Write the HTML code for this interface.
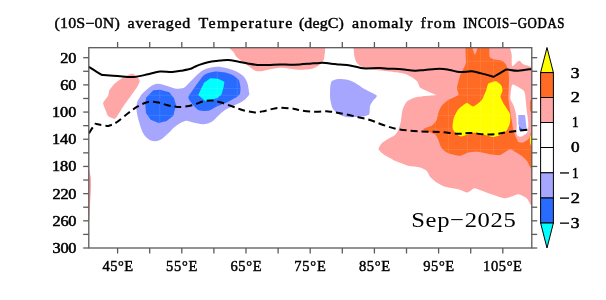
<!DOCTYPE html>
<html><head><meta charset="utf-8"><style>html,body{margin:0;padding:0;background:#fff;width:606px;height:300px;overflow:hidden}svg{display:block;will-change:transform}</style></head>
<body><svg width="606" height="300" viewBox="0 0 606 300">
<defs><clipPath id="fr"><rect x="88.7" y="47.5" width="443" height="200.5"/></clipPath></defs>
<g clip-path="url(#fr)"><path fill="#ffa6a6" d="M234.00,41.00 C218.90,43.08 233.67,50.50 234.50,53.50 C235.33,56.50 236.92,57.08 239.00,59.00 C241.08,60.92 244.33,63.08 247.00,65.00 C249.67,66.92 252.67,69.47 255.00,70.50 C257.33,71.53 258.67,71.37 261.00,71.20 C263.33,71.03 266.17,70.03 269.00,69.50 C271.83,68.97 275.33,68.25 278.00,68.00 C280.67,67.75 282.17,67.77 285.00,68.00 C287.83,68.23 291.92,69.12 295.00,69.40 C298.08,69.68 300.92,69.75 303.50,69.70 C306.08,69.65 308.17,69.68 310.50,69.10 C312.83,68.52 315.45,67.47 317.50,66.20 C319.55,64.93 321.63,63.25 322.80,61.50 C323.97,59.75 324.12,57.83 324.50,55.70 C324.88,53.57 325.00,51.15 325.10,48.70 C325.20,46.25 340.28,42.28 325.10,41.00 C309.92,39.72 249.10,38.92 234.00,41.00Z"/>
<path fill="#ffa6a6" d="M353.70,41.00 C335.27,41.77 353.64,47.23 353.70,48.70 C353.76,50.17 354.07,54.42 354.30,55.70 C354.53,56.98 355.48,60.51 356.00,61.50 C356.52,62.49 358.57,64.92 359.50,65.60 C360.43,66.28 364.08,67.92 365.30,68.30 C366.52,68.68 370.23,69.19 371.70,69.40 C373.17,69.61 378.17,70.20 380.00,70.40 C381.83,70.60 388.00,71.16 390.00,71.40 C392.00,71.64 398.40,72.51 400.00,72.80 C401.60,73.09 404.81,73.85 406.00,74.30 C407.19,74.75 410.75,76.56 411.90,77.30 C413.05,78.04 416.69,80.68 417.50,81.70 C418.31,82.72 418.92,86.50 420.00,87.50 C421.08,88.50 426.70,90.95 428.30,91.70 C429.90,92.45 436.33,94.57 436.00,95.00 C435.67,95.43 427.10,95.75 425.00,96.00 C422.90,96.25 416.83,96.93 415.00,97.50 C413.17,98.07 407.95,100.45 406.70,101.70 C405.45,102.95 403.09,108.00 402.50,110.00 C401.91,112.00 401.22,119.70 400.80,121.70 C400.38,123.70 398.88,128.67 398.30,130.00 C397.72,131.33 396.03,134.10 395.00,135.00 C393.97,135.90 389.30,138.20 388.00,139.00 C386.70,139.80 382.95,142.00 382.00,143.00 C381.05,144.00 378.40,147.90 378.50,149.00 C378.60,150.10 381.85,153.10 383.00,154.00 C384.15,154.90 388.80,157.32 390.00,158.00 C391.20,158.68 393.17,160.02 395.00,160.80 C396.83,161.58 405.80,165.13 408.30,165.80 C410.80,166.47 418.16,167.00 420.00,167.50 C421.84,168.00 425.70,169.88 426.70,170.80 C427.70,171.72 429.00,175.53 430.00,176.70 C431.00,177.87 435.20,181.50 436.70,182.50 C438.20,183.50 442.84,186.03 445.00,186.70 C447.16,187.37 456.05,188.62 458.30,189.20 C460.55,189.78 465.91,192.59 467.50,192.50 C469.09,192.41 472.78,188.47 474.20,188.30 C475.62,188.13 479.79,190.13 481.70,190.80 C483.61,191.47 490.89,194.25 493.30,195.00 C495.71,195.75 503.30,198.38 505.80,198.30 C508.30,198.22 516.21,194.20 518.30,194.20 C520.39,194.20 525.45,197.22 526.70,198.30 C527.95,199.38 529.67,203.83 530.80,205.00 C531.93,206.17 537.28,226.40 538.00,210.00 C538.72,193.60 556.43,57.90 538.00,41.00 C519.57,24.10 372.13,40.23 353.70,41.00Z"/>
<path fill="#ffa6a6" d="M132.90,73.70 C133.49,73.83 136.91,75.88 137.40,76.40 C137.89,76.92 139.80,80.28 139.80,81.00 C139.80,81.72 138.03,85.45 137.40,86.50 C136.77,87.55 131.98,94.32 131.00,95.70 C130.02,97.08 124.81,104.16 123.70,105.80 C122.59,107.44 116.51,117.88 115.40,118.60 C114.29,119.32 108.82,116.56 108.10,115.90 C107.38,115.24 105.66,110.32 105.30,109.40 C104.94,108.48 102.90,103.98 103.10,103.00 C103.30,102.02 107.65,96.61 108.10,95.70 C108.55,94.79 108.94,91.05 109.40,90.20 C109.86,89.35 113.61,84.65 114.50,83.80 C115.39,82.95 120.85,78.96 121.90,78.30 C122.95,77.64 128.41,74.93 129.20,74.60 C129.99,74.27 132.31,73.57 132.90,73.70Z"/>
<path fill="#ffa6a6" d="M82.00,168.00 L89.30,170.00 L90.90,178.00 L91.10,186.00 L90.60,195.00 L89.90,208.00 L89.40,220.00 L82.00,222.00Z"/>
<path fill="#ff6b24" d="M465.70,41.00 C466.28,39.50 470.84,40.34 471.50,41.00 C472.16,41.66 471.95,46.23 472.30,47.60 C472.65,48.97 474.47,54.70 475.00,54.70 C475.53,54.70 477.25,48.97 477.60,47.60 C477.95,46.23 477.36,41.66 478.50,41.00 C479.64,40.34 487.92,39.80 489.00,41.00 C490.08,42.20 489.22,51.37 489.30,53.00 C489.38,54.63 489.36,56.67 489.80,57.30 C490.24,57.93 492.51,58.96 493.70,59.30 C494.89,59.64 500.50,60.23 501.70,60.70 C502.90,61.17 505.04,63.00 505.70,64.00 C506.36,65.00 507.97,69.27 508.30,70.70 C508.63,72.13 508.95,76.54 509.00,78.30 C509.05,80.06 508.86,86.33 508.80,88.30 C508.74,90.27 508.28,95.83 508.40,98.00 C508.52,100.17 509.67,107.80 510.00,110.00 C510.33,112.20 511.37,118.00 511.70,120.00 C512.03,122.00 512.97,128.50 513.30,130.00 C513.63,131.50 514.50,133.83 515.00,135.00 C515.50,136.17 517.47,140.95 518.30,141.70 C519.13,142.45 522.21,142.84 523.30,142.50 C524.39,142.16 528.45,139.22 529.20,138.30 C529.95,137.38 529.92,133.83 530.80,133.30 C531.68,132.77 537.28,129.03 538.00,133.00 C538.72,136.97 538.72,169.47 538.00,173.00 C537.28,176.53 531.85,169.43 530.80,168.30 C529.75,167.17 528.41,162.95 527.50,161.70 C526.59,160.45 522.95,156.80 521.70,155.80 C520.45,154.80 516.17,152.36 515.00,151.70 C513.83,151.04 511.50,148.87 510.00,149.20 C508.50,149.53 502.00,154.50 500.00,155.00 C498.00,155.50 492.17,154.53 490.00,154.20 C487.83,153.87 480.47,151.87 478.30,151.70 C476.13,151.53 470.13,152.09 468.30,152.50 C466.47,152.91 462.00,155.72 460.00,155.80 C458.00,155.88 450.13,154.05 448.30,153.30 C446.47,152.55 442.70,149.63 441.70,148.30 C440.70,146.97 438.97,141.41 438.30,140.00 C437.63,138.59 436.50,135.25 435.00,134.20 C433.50,133.15 423.63,130.34 423.30,129.50 C422.97,128.66 430.36,126.75 431.70,125.80 C433.04,124.85 436.04,121.25 436.70,120.00 C437.36,118.75 437.80,114.72 438.30,113.30 C438.80,111.88 440.70,107.13 441.70,105.80 C442.70,104.47 446.64,101.08 448.30,100.00 C449.96,98.92 457.44,96.17 458.30,95.00 C459.16,93.83 456.90,89.60 456.90,88.30 C456.90,87.00 457.96,83.36 458.30,82.00 C458.64,80.64 459.56,76.50 460.30,74.70 C461.04,72.90 465.16,65.87 465.70,64.00 C466.24,62.13 465.70,58.30 465.70,56.00 C465.70,53.70 465.12,42.50 465.70,41.00Z"/>
<path fill="#ff6b24" d="M530.80,100.00 C529.47,101.00 530.00,103.05 530.00,105.00 C530.00,106.95 529.47,110.53 530.80,111.70 C532.13,112.87 536.80,114.12 538.00,112.00 C539.20,109.88 539.20,101.00 538.00,99.00 C536.80,97.00 532.13,99.00 530.80,100.00Z"/>
<path fill="#fff" d="M511.30,41.00 C506.92,43.33 511.58,50.87 511.70,55.00 C511.82,59.13 511.45,64.27 512.00,65.80 C512.55,67.33 513.80,65.03 515.00,64.20 C516.20,63.37 517.53,60.67 519.20,60.80 C520.87,60.93 521.87,64.30 525.00,65.00 C528.13,65.70 535.83,69.00 538.00,65.00 C540.17,61.00 542.45,45.00 538.00,41.00 C533.55,37.00 515.68,38.67 511.30,41.00Z"/>
<path fill="#fff" d="M510.40,97.00 C510.43,95.33 510.68,92.03 511.00,90.00 C511.32,87.97 511.63,85.60 512.30,84.80 C512.97,84.00 514.00,84.85 515.00,85.20 C516.00,85.55 516.97,86.10 518.30,86.90 C519.63,87.70 521.88,88.90 523.00,90.00 C524.12,91.10 524.55,91.83 525.00,93.50 C525.45,95.17 525.42,97.25 525.70,100.00 C525.98,102.75 526.27,106.12 526.70,110.00 C527.13,113.88 528.17,119.68 528.30,123.30 C528.43,126.92 528.18,129.75 527.50,131.70 C526.82,133.65 525.45,134.17 524.20,135.00 C522.95,135.83 521.25,136.83 520.00,136.70 C518.75,136.57 517.25,136.43 516.70,134.20 C516.15,131.97 516.85,126.78 516.70,123.30 C516.55,119.82 516.37,116.35 515.80,113.30 C515.23,110.25 514.13,107.22 513.30,105.00 C512.47,102.78 511.28,101.33 510.80,100.00 C510.32,98.67 510.37,98.67 510.40,97.00Z"/>
<path fill="#ffff00" d="M488.30,83.70 C489.27,82.81 494.60,81.11 495.90,81.30 C497.20,81.49 500.65,84.60 501.30,85.60 C501.95,86.60 502.48,90.19 502.40,91.30 C502.32,92.41 500.28,95.30 500.50,96.70 C500.72,98.10 503.65,103.57 504.60,105.30 C505.55,107.03 509.46,112.26 510.00,114.00 C510.54,115.74 510.32,121.07 510.00,122.70 C509.68,124.33 507.75,129.07 506.80,130.30 C505.85,131.53 501.88,134.33 500.50,135.00 C499.12,135.67 494.45,136.98 493.00,137.00 C491.55,137.02 487.77,135.62 486.00,135.20 C484.23,134.78 477.20,132.84 475.30,132.80 C473.40,132.76 468.43,134.43 467.00,134.80 C465.57,135.17 462.15,136.66 461.00,136.50 C459.85,136.34 456.34,134.04 455.50,133.20 C454.66,132.36 452.78,129.59 452.60,128.10 C452.42,126.61 453.16,120.14 453.70,118.30 C454.24,116.46 456.70,111.23 458.00,109.70 C459.30,108.17 465.18,103.33 466.70,103.00 C468.22,102.67 471.69,106.71 473.20,106.40 C474.71,106.09 480.50,101.52 481.80,99.90 C483.10,98.28 485.55,91.82 486.20,90.20 C486.85,88.58 487.33,84.59 488.30,83.70Z"/>
<path fill="#ffff00" d="M530.80,135.00 C532.00,133.17 536.80,132.00 538.00,134.00 C539.20,136.00 539.20,145.17 538.00,147.00 C536.80,148.83 532.00,147.00 530.80,145.00 C529.60,143.00 529.60,136.83 530.80,135.00Z"/>
<path fill="#a6a6ff" d="M143.00,93.00 C144.95,91.13 149.15,87.35 151.70,85.80 C154.25,84.25 155.80,83.70 158.30,83.70 C160.80,83.70 163.92,85.00 166.70,85.80 C169.48,86.60 172.78,88.05 175.00,88.50 C177.22,88.95 178.37,88.72 180.00,88.50 C181.63,88.28 182.80,88.62 184.80,87.20 C186.80,85.78 189.20,82.70 192.00,80.00 C194.80,77.30 198.40,73.10 201.60,71.00 C204.80,68.90 207.80,68.03 211.20,67.40 C214.60,66.77 218.20,66.70 222.00,67.20 C225.80,67.70 230.60,69.07 234.00,70.40 C237.40,71.73 240.20,73.20 242.40,75.20 C244.60,77.20 246.10,79.60 247.20,82.40 C248.30,85.20 248.70,89.90 249.00,92.00 C249.30,94.10 249.95,93.53 249.00,95.00 C248.05,96.47 245.63,99.13 243.30,100.80 C240.97,102.47 238.05,103.47 235.00,105.00 C231.95,106.53 227.78,108.20 225.00,110.00 C222.22,111.80 220.52,113.85 218.30,115.80 C216.08,117.75 214.20,120.30 211.70,121.70 C209.20,123.10 206.37,124.07 203.30,124.20 C200.23,124.33 196.35,123.03 193.30,122.50 C190.25,121.97 188.05,120.30 185.00,121.00 C181.95,121.70 177.78,124.65 175.00,126.70 C172.22,128.75 170.80,131.08 168.30,133.30 C165.80,135.52 162.77,138.75 160.00,140.00 C157.23,141.25 154.33,141.63 151.70,140.80 C149.07,139.97 146.15,137.63 144.20,135.00 C142.25,132.37 141.25,128.88 140.00,125.00 C138.75,121.12 137.20,115.37 136.70,111.70 C136.20,108.03 136.45,105.45 137.00,103.00 C137.55,100.55 139.00,98.67 140.00,97.00 C141.00,95.33 141.05,94.87 143.00,93.00Z"/>
<path fill="#a6a6ff" d="M331.70,81.20 C332.53,80.30 336.92,79.15 338.50,79.00 C340.08,78.85 345.85,79.33 347.50,79.70 C349.15,80.07 353.35,81.80 355.00,82.70 C356.65,83.60 361.83,87.42 364.00,88.70 C366.17,89.98 375.80,94.30 376.70,95.50 C377.60,96.70 373.67,99.65 373.00,100.70 C372.33,101.75 370.38,104.65 370.00,106.00 C369.62,107.35 369.95,113.15 369.20,114.20 C368.45,115.25 364.67,116.20 362.50,116.50 C360.33,116.80 349.90,117.43 347.50,117.20 C345.10,116.97 340.00,115.10 338.50,114.20 C337.00,113.30 333.33,109.77 332.50,108.20 C331.67,106.63 330.43,100.52 330.20,98.50 C329.97,96.48 330.05,89.73 330.20,88.00 C330.35,86.27 330.87,82.10 331.70,81.20Z"/>
<path fill="#a6a6ff" d="M518.30,115.00 L525.00,115.00 L525.80,121.70 L526.70,129.80 L520.00,131.00 L518.30,123.30Z"/>
<path fill="#2a6bff" d="M519.00,126.50 L522.50,129.30 L519.30,130.50Z"/>
<path fill="#2a6bff" d="M146.00,97.70 L153.30,90.30 L160.00,89.70 L169.30,92.30 L174.00,98.30 L176.00,105.00 L173.30,115.70 L166.70,121.00 L158.70,123.00 L150.70,119.70 L146.00,113.00 L145.30,105.00Z"/>
<path fill="#2a6bff" d="M188.40,97.00 C188.79,95.27 194.14,88.10 195.60,86.00 C197.06,83.90 201.86,77.25 203.00,76.00 C204.14,74.75 205.70,73.94 207.00,73.50 C208.30,73.06 214.10,71.67 216.00,71.60 C217.90,71.53 224.32,72.44 226.00,72.80 C227.68,73.16 231.52,74.48 232.80,75.20 C234.08,75.92 238.03,78.72 238.80,80.00 C239.57,81.28 240.40,86.60 240.50,88.00 C240.60,89.40 240.18,93.10 239.80,94.00 C239.42,94.90 237.85,96.23 236.70,97.00 C235.55,97.77 230.14,100.82 228.30,101.70 C226.46,102.58 220.30,104.89 218.30,105.80 C216.30,106.71 210.30,110.38 208.30,110.80 C206.30,111.22 199.96,110.75 198.30,110.00 C196.64,109.25 192.69,104.60 191.70,103.30 C190.71,102.00 188.01,98.73 188.40,97.00Z"/>
<path fill="#00ffff" d="M198.20,95.10 L204.00,82.80 L210.40,78.20 L218.00,78.80 L224.40,81.70 L223.80,86.30 L221.50,94.50 L217.40,98.00 L211.00,99.80 L205.20,100.90 L201.70,98.00Z"/></g>
<g clip-path="url(#fr)"><defs><clipPath id="hi"><path d="M465.70,41.00 C466.28,39.50 470.84,40.34 471.50,41.00 C472.16,41.66 471.95,46.23 472.30,47.60 C472.65,48.97 474.47,54.70 475.00,54.70 C475.53,54.70 477.25,48.97 477.60,47.60 C477.95,46.23 477.36,41.66 478.50,41.00 C479.64,40.34 487.92,39.80 489.00,41.00 C490.08,42.20 489.22,51.37 489.30,53.00 C489.38,54.63 489.36,56.67 489.80,57.30 C490.24,57.93 492.51,58.96 493.70,59.30 C494.89,59.64 500.50,60.23 501.70,60.70 C502.90,61.17 505.04,63.00 505.70,64.00 C506.36,65.00 507.97,69.27 508.30,70.70 C508.63,72.13 508.95,76.54 509.00,78.30 C509.05,80.06 508.86,86.33 508.80,88.30 C508.74,90.27 508.28,95.83 508.40,98.00 C508.52,100.17 509.67,107.80 510.00,110.00 C510.33,112.20 511.37,118.00 511.70,120.00 C512.03,122.00 512.97,128.50 513.30,130.00 C513.63,131.50 514.50,133.83 515.00,135.00 C515.50,136.17 517.47,140.95 518.30,141.70 C519.13,142.45 522.21,142.84 523.30,142.50 C524.39,142.16 528.45,139.22 529.20,138.30 C529.95,137.38 529.92,133.83 530.80,133.30 C531.68,132.77 537.28,129.03 538.00,133.00 C538.72,136.97 538.72,169.47 538.00,173.00 C537.28,176.53 531.85,169.43 530.80,168.30 C529.75,167.17 528.41,162.95 527.50,161.70 C526.59,160.45 522.95,156.80 521.70,155.80 C520.45,154.80 516.17,152.36 515.00,151.70 C513.83,151.04 511.50,148.87 510.00,149.20 C508.50,149.53 502.00,154.50 500.00,155.00 C498.00,155.50 492.17,154.53 490.00,154.20 C487.83,153.87 480.47,151.87 478.30,151.70 C476.13,151.53 470.13,152.09 468.30,152.50 C466.47,152.91 462.00,155.72 460.00,155.80 C458.00,155.88 450.13,154.05 448.30,153.30 C446.47,152.55 442.70,149.63 441.70,148.30 C440.70,146.97 438.97,141.41 438.30,140.00 C437.63,138.59 436.50,135.25 435.00,134.20 C433.50,133.15 423.63,130.34 423.30,129.50 C422.97,128.66 430.36,126.75 431.70,125.80 C433.04,124.85 436.04,121.25 436.70,120.00 C437.36,118.75 437.80,114.72 438.30,113.30 C438.80,111.88 440.70,107.13 441.70,105.80 C442.70,104.47 446.64,101.08 448.30,100.00 C449.96,98.92 457.44,96.17 458.30,95.00 C459.16,93.83 456.90,89.60 456.90,88.30 C456.90,87.00 457.96,83.36 458.30,82.00 C458.64,80.64 459.56,76.50 460.30,74.70 C461.04,72.90 465.16,65.87 465.70,64.00 C466.24,62.13 465.70,58.30 465.70,56.00 C465.70,53.70 465.12,42.50 465.70,41.00Z"/><path d="M530.80,100.00 C529.47,101.00 530.00,103.05 530.00,105.00 C530.00,106.95 529.47,110.53 530.80,111.70 C532.13,112.87 536.80,114.12 538.00,112.00 C539.20,109.88 539.20,101.00 538.00,99.00 C536.80,97.00 532.13,99.00 530.80,100.00Z"/><path d="M488.30,83.70 C489.27,82.81 494.60,81.11 495.90,81.30 C497.20,81.49 500.65,84.60 501.30,85.60 C501.95,86.60 502.48,90.19 502.40,91.30 C502.32,92.41 500.28,95.30 500.50,96.70 C500.72,98.10 503.65,103.57 504.60,105.30 C505.55,107.03 509.46,112.26 510.00,114.00 C510.54,115.74 510.32,121.07 510.00,122.70 C509.68,124.33 507.75,129.07 506.80,130.30 C505.85,131.53 501.88,134.33 500.50,135.00 C499.12,135.67 494.45,136.98 493.00,137.00 C491.55,137.02 487.77,135.62 486.00,135.20 C484.23,134.78 477.20,132.84 475.30,132.80 C473.40,132.76 468.43,134.43 467.00,134.80 C465.57,135.17 462.15,136.66 461.00,136.50 C459.85,136.34 456.34,134.04 455.50,133.20 C454.66,132.36 452.78,129.59 452.60,128.10 C452.42,126.61 453.16,120.14 453.70,118.30 C454.24,116.46 456.70,111.23 458.00,109.70 C459.30,108.17 465.18,103.33 466.70,103.00 C468.22,102.67 471.69,106.71 473.20,106.40 C474.71,106.09 480.50,101.52 481.80,99.90 C483.10,98.28 485.55,91.82 486.20,90.20 C486.85,88.58 487.33,84.59 488.30,83.70Z"/><path d="M530.80,135.00 C532.00,133.17 536.80,132.00 538.00,134.00 C539.20,136.00 539.20,145.17 538.00,147.00 C536.80,148.83 532.00,147.00 530.80,145.00 C529.60,143.00 529.60,136.83 530.80,135.00Z"/><path d="M519.00,126.50 L522.50,129.30 L519.30,130.50Z"/><path d="M146.00,97.70 L153.30,90.30 L160.00,89.70 L169.30,92.30 L174.00,98.30 L176.00,105.00 L173.30,115.70 L166.70,121.00 L158.70,123.00 L150.70,119.70 L146.00,113.00 L145.30,105.00Z"/><path d="M188.40,97.00 C188.79,95.27 194.14,88.10 195.60,86.00 C197.06,83.90 201.86,77.25 203.00,76.00 C204.14,74.75 205.70,73.94 207.00,73.50 C208.30,73.06 214.10,71.67 216.00,71.60 C217.90,71.53 224.32,72.44 226.00,72.80 C227.68,73.16 231.52,74.48 232.80,75.20 C234.08,75.92 238.03,78.72 238.80,80.00 C239.57,81.28 240.40,86.60 240.50,88.00 C240.60,89.40 240.18,93.10 239.80,94.00 C239.42,94.90 237.85,96.23 236.70,97.00 C235.55,97.77 230.14,100.82 228.30,101.70 C226.46,102.58 220.30,104.89 218.30,105.80 C216.30,106.71 210.30,110.38 208.30,110.80 C206.30,111.22 199.96,110.75 198.30,110.00 C196.64,109.25 192.69,104.60 191.70,103.30 C190.71,102.00 188.01,98.73 188.40,97.00Z"/><path d="M198.20,95.10 L204.00,82.80 L210.40,78.20 L218.00,78.80 L224.40,81.70 L223.80,86.30 L221.50,94.50 L217.40,98.00 L211.00,99.80 L205.20,100.90 L201.70,98.00Z"/></clipPath></defs><g clip-path="url(#hi)" stroke="#fff" stroke-opacity="0.09" stroke-width="1"><line x1="159.7" y1="47" x2="159.7" y2="248"/><line x1="217.3" y1="47" x2="217.3" y2="248"/><line x1="237.3" y1="47" x2="237.3" y2="248"/><line x1="435.5" y1="47" x2="435.5" y2="248"/><line x1="448.5" y1="47" x2="448.5" y2="248"/><line x1="467.5" y1="47" x2="467.5" y2="248"/><line x1="480.5" y1="47" x2="480.5" y2="248"/><line x1="493.5" y1="47" x2="493.5" y2="248"/><line x1="88" y1="61.3" x2="532" y2="61.3"/><line x1="88" y1="88.5" x2="532" y2="88.5"/><line x1="88" y1="95.3" x2="532" y2="95.3"/><line x1="88" y1="115.5" x2="532" y2="115.5"/><line x1="88" y1="129" x2="532" y2="129"/><line x1="88" y1="149.5" x2="532" y2="149.5"/></g>
<path fill="none" stroke="#000" stroke-width="2" stroke-linejoin="round" d="M86.00,65.00 C86.48,65.32 86.48,65.37 88.90,66.90 C91.32,68.43 98.33,72.88 100.50,74.20 C102.67,75.52 101.40,74.65 101.90,74.80 C102.40,74.95 100.87,74.90 103.50,75.10 C106.13,75.30 112.73,75.68 117.70,76.00 C122.67,76.32 128.25,77.28 133.30,77.00 C138.35,76.72 143.57,75.20 148.00,74.30 C152.43,73.40 155.85,71.98 159.90,71.60 C163.95,71.22 168.45,72.20 172.30,72.00 C176.15,71.80 179.92,70.93 183.00,70.40 C186.08,69.87 188.87,69.38 190.80,68.80 C192.73,68.22 193.07,67.60 194.60,66.90 C196.13,66.20 197.77,65.38 200.00,64.60 C202.23,63.82 205.33,62.82 208.00,62.20 C210.67,61.58 212.70,61.28 216.00,60.90 C219.30,60.52 224.18,59.82 227.80,59.90 C231.42,59.98 234.40,60.82 237.70,61.40 C241.00,61.98 244.30,62.82 247.60,63.40 C250.90,63.98 254.10,64.65 257.50,64.90 C260.90,65.15 264.25,64.98 268.00,64.90 C271.75,64.82 276.33,64.43 280.00,64.40 C283.67,64.37 286.70,64.70 290.00,64.70 C293.30,64.70 296.52,64.57 299.80,64.40 C303.08,64.23 306.40,63.95 309.70,63.70 C313.00,63.45 316.88,63.02 319.60,62.90 C322.32,62.78 323.52,62.80 326.00,63.00 C328.48,63.20 332.17,63.83 334.50,64.10 C336.83,64.37 337.43,64.38 340.00,64.60 C342.57,64.82 346.60,64.88 349.90,65.40 C353.20,65.92 357.17,67.20 359.80,67.70 C362.43,68.20 362.40,68.33 365.70,68.40 C369.00,68.47 375.63,68.05 379.60,68.10 C383.57,68.15 385.82,68.52 389.50,68.70 C393.18,68.88 397.47,68.87 401.70,69.20 C405.93,69.53 411.05,70.58 414.90,70.70 C418.75,70.82 420.68,70.23 424.80,69.90 C428.92,69.57 435.48,68.70 439.60,68.70 C443.72,68.70 446.10,69.33 449.50,69.90 C452.90,70.47 456.27,71.87 460.00,72.10 C463.73,72.33 468.33,71.08 471.90,71.30 C475.47,71.52 478.13,72.58 481.40,73.40 C484.67,74.22 489.52,75.63 491.50,76.20 C493.48,76.77 492.72,76.83 493.30,76.80 C493.88,76.77 493.05,77.10 495.00,76.00 C496.95,74.90 503.12,71.27 505.00,70.20 C506.88,69.13 505.80,69.70 506.30,69.60 C506.80,69.50 506.02,69.40 508.00,69.60 C509.98,69.80 514.20,70.92 518.20,70.80 C522.20,70.68 529.70,69.22 532.00,68.90"/>
<path fill="none" stroke="#000" stroke-width="2.0" stroke-dasharray="7 4" stroke-dashoffset="6.7" d="M86.00,136.50 C86.48,135.97 87.48,135.28 88.90,133.30 C90.32,131.32 93.42,126.15 94.50,124.60 C95.58,123.05 95.07,124.09 95.40,124.00 C95.73,123.91 94.57,123.73 96.50,124.05 C98.43,124.37 105.07,125.58 107.00,125.90 C108.93,126.23 107.72,126.05 108.10,126.00 C108.48,125.95 107.98,126.15 109.30,125.60 C110.62,125.05 112.88,124.75 116.00,122.70 C119.12,120.65 124.45,115.97 128.00,113.30 C131.55,110.63 133.97,108.58 137.30,106.70 C140.63,104.82 144.43,102.68 148.00,102.00 C151.57,101.32 155.58,102.10 158.70,102.60 C161.82,103.10 164.03,104.33 166.70,105.00 C169.37,105.67 172.48,106.27 174.70,106.60 C176.92,106.93 177.12,107.23 180.00,107.00 C182.88,106.77 188.00,106.17 192.00,105.20 C196.00,104.23 200.60,101.97 204.00,101.20 C207.40,100.43 209.40,100.33 212.40,100.60 C215.40,100.87 218.40,101.73 222.00,102.80 C225.60,103.87 230.50,105.77 234.00,107.00 C237.50,108.23 239.52,109.30 243.00,110.20 C246.48,111.10 251.27,112.28 254.90,112.40 C258.53,112.52 261.50,111.57 264.80,110.90 C268.10,110.23 271.40,108.90 274.70,108.40 C278.00,107.90 281.30,107.82 284.60,107.90 C287.90,107.98 291.65,108.45 294.50,108.90 C297.35,109.35 298.28,110.13 301.70,110.60 C305.12,111.07 310.57,111.57 315.00,111.70 C319.43,111.83 324.13,111.15 328.30,111.40 C332.47,111.65 335.55,112.37 340.00,113.20 C344.45,114.03 350.00,115.27 355.00,116.40 C360.00,117.53 365.28,118.57 370.00,120.00 C374.72,121.43 378.58,123.47 383.30,125.00 C388.02,126.53 392.47,128.15 398.30,129.20 C404.13,130.25 411.35,130.83 418.30,131.30 C425.25,131.77 433.33,131.60 440.00,132.00 C446.67,132.40 453.30,133.53 458.30,133.70 C463.30,133.87 465.83,132.92 470.00,133.00 C474.17,133.08 479.13,134.00 483.30,134.20 C487.47,134.40 490.83,134.57 495.00,134.20 C499.17,133.83 502.47,132.78 508.30,132.00 C514.13,131.22 526.38,129.92 530.00,129.50"/></g>
<g><rect x="88.8" y="47.7" width="443" height="200.3" fill="none" stroke="#5a5a5a" stroke-width="1.3"/>
<line x1="117.591" y1="47.5" x2="117.591" y2="42" stroke="#5a5a5a" stroke-width="1.3"/>
<line x1="117.591" y1="248" x2="117.591" y2="253.5" stroke="#5a5a5a" stroke-width="1.3"/>
<line x1="149.693" y1="47.5" x2="149.693" y2="42" stroke="#5a5a5a" stroke-width="1.3"/>
<line x1="149.693" y1="248" x2="149.693" y2="253.5" stroke="#5a5a5a" stroke-width="1.3"/>
<line x1="181.794" y1="47.5" x2="181.794" y2="42" stroke="#5a5a5a" stroke-width="1.3"/>
<line x1="181.794" y1="248" x2="181.794" y2="253.5" stroke="#5a5a5a" stroke-width="1.3"/>
<line x1="213.896" y1="47.5" x2="213.896" y2="42" stroke="#5a5a5a" stroke-width="1.3"/>
<line x1="213.896" y1="248" x2="213.896" y2="253.5" stroke="#5a5a5a" stroke-width="1.3"/>
<line x1="245.997" y1="47.5" x2="245.997" y2="42" stroke="#5a5a5a" stroke-width="1.3"/>
<line x1="245.997" y1="248" x2="245.997" y2="253.5" stroke="#5a5a5a" stroke-width="1.3"/>
<line x1="278.099" y1="47.5" x2="278.099" y2="42" stroke="#5a5a5a" stroke-width="1.3"/>
<line x1="278.099" y1="248" x2="278.099" y2="253.5" stroke="#5a5a5a" stroke-width="1.3"/>
<line x1="310.2" y1="47.5" x2="310.2" y2="42" stroke="#5a5a5a" stroke-width="1.3"/>
<line x1="310.2" y1="248" x2="310.2" y2="253.5" stroke="#5a5a5a" stroke-width="1.3"/>
<line x1="342.301" y1="47.5" x2="342.301" y2="42" stroke="#5a5a5a" stroke-width="1.3"/>
<line x1="342.301" y1="248" x2="342.301" y2="253.5" stroke="#5a5a5a" stroke-width="1.3"/>
<line x1="374.403" y1="47.5" x2="374.403" y2="42" stroke="#5a5a5a" stroke-width="1.3"/>
<line x1="374.403" y1="248" x2="374.403" y2="253.5" stroke="#5a5a5a" stroke-width="1.3"/>
<line x1="406.504" y1="47.5" x2="406.504" y2="42" stroke="#5a5a5a" stroke-width="1.3"/>
<line x1="406.504" y1="248" x2="406.504" y2="253.5" stroke="#5a5a5a" stroke-width="1.3"/>
<line x1="438.606" y1="47.5" x2="438.606" y2="42" stroke="#5a5a5a" stroke-width="1.3"/>
<line x1="438.606" y1="248" x2="438.606" y2="253.5" stroke="#5a5a5a" stroke-width="1.3"/>
<line x1="470.707" y1="47.5" x2="470.707" y2="42" stroke="#5a5a5a" stroke-width="1.3"/>
<line x1="470.707" y1="248" x2="470.707" y2="253.5" stroke="#5a5a5a" stroke-width="1.3"/>
<line x1="502.809" y1="47.5" x2="502.809" y2="42" stroke="#5a5a5a" stroke-width="1.3"/>
<line x1="502.809" y1="248" x2="502.809" y2="253.5" stroke="#5a5a5a" stroke-width="1.3"/>
<line x1="88.7" y1="57.6949" x2="83.2" y2="57.6949" stroke="#5a5a5a" stroke-width="1.3"/>
<line x1="531.7" y1="57.6949" x2="537.2" y2="57.6949" stroke="#5a5a5a" stroke-width="1.3"/>
<line x1="88.7" y1="71.2881" x2="83.2" y2="71.2881" stroke="#5a5a5a" stroke-width="1.3"/>
<line x1="531.7" y1="71.2881" x2="537.2" y2="71.2881" stroke="#5a5a5a" stroke-width="1.3"/>
<line x1="88.7" y1="84.8814" x2="83.2" y2="84.8814" stroke="#5a5a5a" stroke-width="1.3"/>
<line x1="531.7" y1="84.8814" x2="537.2" y2="84.8814" stroke="#5a5a5a" stroke-width="1.3"/>
<line x1="88.7" y1="98.4746" x2="83.2" y2="98.4746" stroke="#5a5a5a" stroke-width="1.3"/>
<line x1="531.7" y1="98.4746" x2="537.2" y2="98.4746" stroke="#5a5a5a" stroke-width="1.3"/>
<line x1="88.7" y1="112.068" x2="83.2" y2="112.068" stroke="#5a5a5a" stroke-width="1.3"/>
<line x1="531.7" y1="112.068" x2="537.2" y2="112.068" stroke="#5a5a5a" stroke-width="1.3"/>
<line x1="88.7" y1="125.661" x2="83.2" y2="125.661" stroke="#5a5a5a" stroke-width="1.3"/>
<line x1="531.7" y1="125.661" x2="537.2" y2="125.661" stroke="#5a5a5a" stroke-width="1.3"/>
<line x1="88.7" y1="139.254" x2="83.2" y2="139.254" stroke="#5a5a5a" stroke-width="1.3"/>
<line x1="531.7" y1="139.254" x2="537.2" y2="139.254" stroke="#5a5a5a" stroke-width="1.3"/>
<line x1="88.7" y1="152.847" x2="83.2" y2="152.847" stroke="#5a5a5a" stroke-width="1.3"/>
<line x1="531.7" y1="152.847" x2="537.2" y2="152.847" stroke="#5a5a5a" stroke-width="1.3"/>
<line x1="88.7" y1="166.441" x2="83.2" y2="166.441" stroke="#5a5a5a" stroke-width="1.3"/>
<line x1="531.7" y1="166.441" x2="537.2" y2="166.441" stroke="#5a5a5a" stroke-width="1.3"/>
<line x1="88.7" y1="180.034" x2="83.2" y2="180.034" stroke="#5a5a5a" stroke-width="1.3"/>
<line x1="531.7" y1="180.034" x2="537.2" y2="180.034" stroke="#5a5a5a" stroke-width="1.3"/>
<line x1="88.7" y1="193.627" x2="83.2" y2="193.627" stroke="#5a5a5a" stroke-width="1.3"/>
<line x1="531.7" y1="193.627" x2="537.2" y2="193.627" stroke="#5a5a5a" stroke-width="1.3"/>
<line x1="88.7" y1="207.22" x2="83.2" y2="207.22" stroke="#5a5a5a" stroke-width="1.3"/>
<line x1="531.7" y1="207.22" x2="537.2" y2="207.22" stroke="#5a5a5a" stroke-width="1.3"/>
<line x1="88.7" y1="220.814" x2="83.2" y2="220.814" stroke="#5a5a5a" stroke-width="1.3"/>
<line x1="531.7" y1="220.814" x2="537.2" y2="220.814" stroke="#5a5a5a" stroke-width="1.3"/>
<line x1="88.7" y1="234.407" x2="83.2" y2="234.407" stroke="#5a5a5a" stroke-width="1.3"/>
<line x1="531.7" y1="234.407" x2="537.2" y2="234.407" stroke="#5a5a5a" stroke-width="1.3"/>
<line x1="88.7" y1="248" x2="83.2" y2="248" stroke="#5a5a5a" stroke-width="1.3"/>
<line x1="531.7" y1="248" x2="537.2" y2="248" stroke="#5a5a5a" stroke-width="1.3"/></g>
<g><polygon fill="#ffff00" stroke="#000" stroke-width="1" points="547,47.5 553.4,72.6 540.6,72.6"/>
<rect x="540.6" y="72.6" width="12.8" height="24.9" fill="#ff6b24" stroke="#000" stroke-width="1"/>
<rect x="540.6" y="97.5" width="12.8" height="25" fill="#ffa6a6" stroke="#000" stroke-width="1"/>
<rect x="540.6" y="122.5" width="12.8" height="25" fill="#fff" stroke="#000" stroke-width="1"/>
<rect x="540.6" y="147.5" width="12.8" height="25.3" fill="#fff" stroke="#000" stroke-width="1"/>
<rect x="540.6" y="172.8" width="12.8" height="25.2" fill="#a6a6ff" stroke="#000" stroke-width="1"/>
<rect x="540.6" y="198" width="12.8" height="25" fill="#2a6bff" stroke="#000" stroke-width="1"/>
<polygon fill="#00ffff" stroke="#000" stroke-width="1" points="540.6,223 553.4,223 547,248"/></g>
<g font-family="Liberation Serif" fill="#000"><rect x="560" y="172.3" width="9" height="1.3" fill="#000"/>
<rect x="560" y="197.5" width="9" height="1.3" fill="#000"/>
<rect x="560" y="222.5" width="9" height="1.3" fill="#000"/>
<text transform="matrix(1.1200 0 0 1 54.52 27.90)" font-size="14.3" stroke="#000" stroke-width="0.4" letter-spacing="0.132">(10S−0N)</text>
<text transform="matrix(1.1200 0 0 1 127.58 27.90)" font-size="14.3" stroke="#000" stroke-width="0.4" letter-spacing="0.625">averaged</text>
<text transform="matrix(1.1200 0 0 1 198.60 27.90)" font-size="14.3" stroke="#000" stroke-width="0.4" letter-spacing="1.161">Temperature</text>
<text transform="matrix(1.1200 0 0 1 298.92 27.90)" font-size="14.3" stroke="#000" stroke-width="0.4" letter-spacing="0.096">(degC)</text>
<text transform="matrix(1.1200 0 0 1 352.08 27.90)" font-size="14.3" stroke="#000" stroke-width="0.4" letter-spacing="0.813">anomaly</text>
<text transform="matrix(1.1200 0 0 1 420.48 27.90)" font-size="14.3" stroke="#000" stroke-width="0.4" letter-spacing="1.175">from</text>
<text transform="matrix(0.9000 0 0 1 463.14 27.90)" font-size="14.3" stroke="#000" stroke-width="0.55" letter-spacing="0.698">INCOIS−GODAS</text>
<text transform="matrix(1.2000 0 0 1 60.21 62.59)" font-size="13.6" stroke="#000" stroke-width="0.5" letter-spacing="-0.087">20</text>
<text transform="matrix(1.2000 0 0 1 60.37 89.78)" font-size="13.6" stroke="#000" stroke-width="0.5" letter-spacing="-0.223">60</text>
<text transform="matrix(1.2000 0 0 1 51.96 116.97)" font-size="13.6" stroke="#000" stroke-width="0.5" letter-spacing="-0.005">100</text>
<text transform="matrix(1.2000 0 0 1 51.96 144.15)" font-size="13.6" stroke="#000" stroke-width="0.5" letter-spacing="-0.005">140</text>
<text transform="matrix(1.2000 0 0 1 51.96 171.34)" font-size="13.6" stroke="#000" stroke-width="0.5" letter-spacing="-0.005">180</text>
<text transform="matrix(1.2000 0 0 1 52.61 198.53)" font-size="13.6" stroke="#000" stroke-width="0.5" letter-spacing="-0.277">220</text>
<text transform="matrix(1.2000 0 0 1 52.61 225.71)" font-size="13.6" stroke="#000" stroke-width="0.5" letter-spacing="-0.277">260</text>
<text transform="matrix(1.2000 0 0 1 52.61 252.90)" font-size="13.6" stroke="#000" stroke-width="0.5" letter-spacing="-0.277">300</text>
<text transform="matrix(1.0000 0 0 1 102.44 271.00)" font-size="14.5" stroke="#000" stroke-width="0.45" letter-spacing="0.530">45°E</text>
<text transform="matrix(1.0000 0 0 1 166.06 271.00)" font-size="14.5" stroke="#000" stroke-width="0.45" letter-spacing="0.723">55°E</text>
<text transform="matrix(1.0000 0 0 1 230.41 271.00)" font-size="14.5" stroke="#000" stroke-width="0.45" letter-spacing="0.675">65°E</text>
<text transform="matrix(1.0000 0 0 1 294.33 271.00)" font-size="14.5" stroke="#000" stroke-width="0.45" letter-spacing="0.772">75°E</text>
<text transform="matrix(1.0000 0 0 1 358.96 271.00)" font-size="14.5" stroke="#000" stroke-width="0.45" letter-spacing="0.627">85°E</text>
<text transform="matrix(1.0000 0 0 1 423.17 271.00)" font-size="14.5" stroke="#000" stroke-width="0.45" letter-spacing="0.627">95°E</text>
<text transform="matrix(1.0000 0 0 1 483.09 271.00)" font-size="14.5" stroke="#000" stroke-width="0.45" letter-spacing="0.614">105°E</text>
<text transform="matrix(1.2908 0 0 1 570.87 77.50)" font-size="13.6" stroke="#000" stroke-width="0.5">3</text>
<text transform="matrix(1.3509 0 0 1 570.85 102.40)" font-size="13.6" stroke="#000" stroke-width="0.5">2</text>
<text transform="matrix(0.9804 0 0 1 572.07 127.40)" font-size="13.6" stroke="#000" stroke-width="0.5">1</text>
<text transform="matrix(1.2628 0 0 1 571.06 152.40)" font-size="13.6" stroke="#000" stroke-width="0.5">0</text>
<text transform="matrix(0.9804 0 0 1 572.07 177.70)" font-size="13.6" stroke="#000" stroke-width="0.5">1</text>
<text transform="matrix(1.3509 0 0 1 570.85 202.90)" font-size="13.6" stroke="#000" stroke-width="0.5">2</text>
<text transform="matrix(1.2908 0 0 1 570.87 227.90)" font-size="13.6" stroke="#000" stroke-width="0.5">3</text>
<text transform="matrix(1.1200 0 0 1 411.28 226.80)" font-size="22" letter-spacing="0.564">Sep−2025</text></g>
</svg></body></html>
